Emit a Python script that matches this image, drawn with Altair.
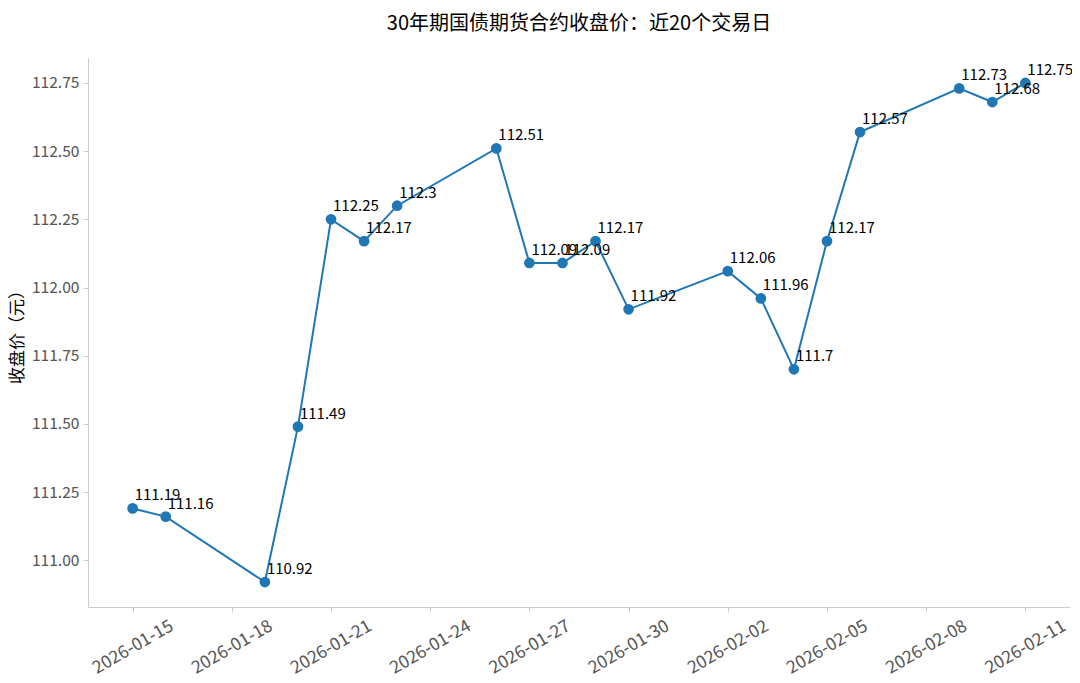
import altair as alt
import pandas as pd

dates = ["2026-01-15", "2026-01-16", "2026-01-19", "2026-01-20", "2026-01-21",
         "2026-01-22", "2026-01-23", "2026-01-26", "2026-01-27", "2026-01-28",
         "2026-01-29", "2026-01-30", "2026-02-02", "2026-02-03", "2026-02-04",
         "2026-02-05", "2026-02-06", "2026-02-09", "2026-02-10", "2026-02-11"]
prices = [111.19, 111.16, 110.92, 111.49, 112.25,
          112.17, 112.3, 112.51, 112.09, 112.09,
          112.17, 111.92, 112.06, 111.96, 111.7,
          112.17, 112.57, 112.73, 112.68, 112.75]
labels = [str(p) for p in prices]
y_ticks = [111.00, 111.25, 111.50, 111.75, 112.00, 112.25, 112.50, 112.75]
x_ticks = [(1, 15), (1, 18), (1, 21), (1, 24), (1, 27), (1, 30),
           (2, 2), (2, 5), (2, 8), (2, 11)]

title = "30年期国债期货合约收盘价：近20个交易日"
y_title = "收盘价（元）"
FONT = "Noto Sans CJK SC"

df = pd.DataFrame({"date": dates, "price": prices, "label": labels})

x_enc = alt.X(
    "date:T",
    scale=alt.Scale(
        type="utc",
        domain=[alt.DateTime(year=2026, month=1, date=13, hours=15, minutes=36, utc=True),
                alt.DateTime(year=2026, month=2, date=12, hours=8, minutes=24, utc=True)],
    ),
    axis=alt.Axis(
        values=[alt.DateTime(year=2026, month=m, date=d, utc=True) for m, d in x_ticks],
        labelExpr="utcFormat(datum.value, '%Y-%m-%d')",
        labelAngle=-30,
        labelAlign="center",
        labelBaseline="middle",
        labelPadding=35,
        labelFontSize=17.5,
        title=None,
        grid=False,
    ),
)
y_enc = alt.Y(
    "price:Q",
    scale=alt.Scale(domain=[110.8285, 112.8415], nice=False, zero=False),
    axis=alt.Axis(values=y_ticks, format=".2f", title=y_title, grid=False,
                  titlePadding=5, labelFontSize=15.6),
)

base = alt.Chart(df).encode(x=x_enc, y=y_enc)

line = base.mark_line(color="#1f77b4", strokeWidth=2)
points = base.mark_circle(color="#1f77b4", size=115, opacity=1)
text = base.mark_text(align="left", baseline="bottom", dx=2, dy=-5,
                      fontSize=15, font=FONT, color="#000000").encode(text="label:N")

chart = (
    (line + points + text)
    .properties(
        width=982, height=549,
        autosize=alt.AutoSizeParams(type="none"),
        padding={"left": 80, "top": 50, "right": 2, "bottom": 74},
        title=alt.TitleParams(title, fontSize=20, font=FONT, fontWeight="normal",
                              color="#000000", anchor="middle", offset=24),
    )
    .configure_view(stroke=None)
    .configure_axis(
        domainColor="#cccccc", tickColor="#cccccc", tickSize=5,
        labelColor="#555555", labelFont=FONT,
        titleFont=FONT, titleFontSize=17, titleColor="#000000", titleFontWeight="normal",
        labelPadding=4,
    )
)

chart.save("out.html", embed_options={"renderer": "svg", "actions": False})
